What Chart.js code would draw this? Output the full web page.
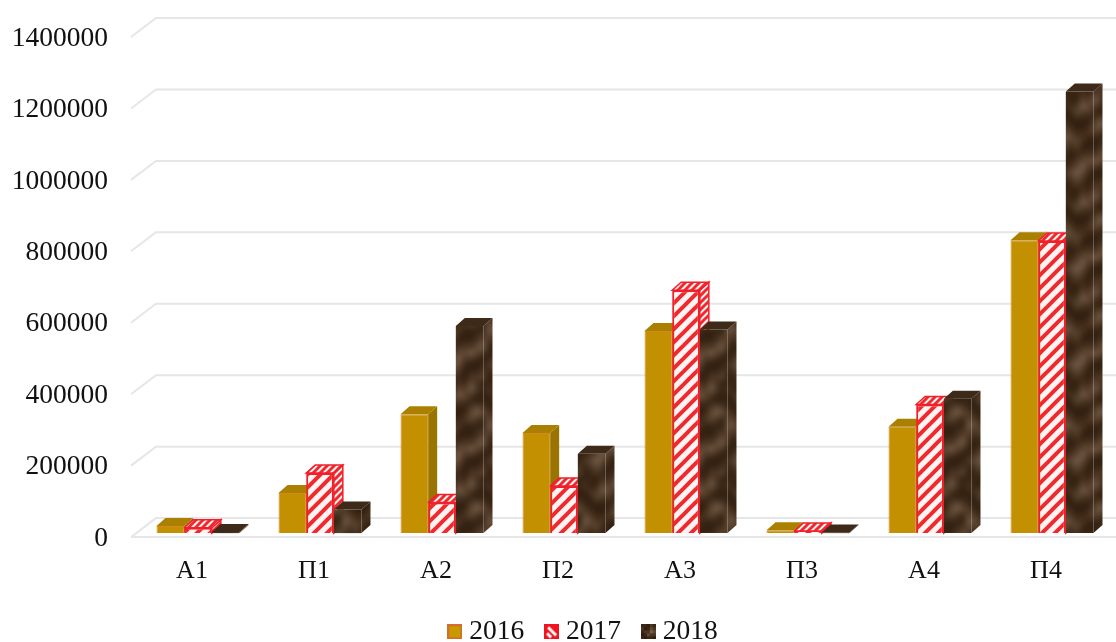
<!DOCTYPE html>
<html>
<head>
<meta charset="utf-8">
<style>
  html, body { margin: 0; padding: 0; background: #fff; overflow: hidden; }
  canvas { display: block; }
</style>
<script src="https://cdn.jsdelivr.net/npm/chart.js@4"></script>
</head>
<body>
<canvas id="chart" width="1116" height="642"></canvas>
<script>
// chart data
const categories = ["А1", "П1", "А2", "П2", "А3", "П3", "А4", "П4"]
const values2016 = [20000, 112000, 333000, 280000, 566000, 8000, 298000, 820000]
const values2017 = [15000, 168000, 86000, 132000, 680000, 6000, 360000, 818000]
const values2018 = [3000, 66000, 580000, 222000, 570000, 2000, 376000, 1236000]
const yMax = 1400000
const yStep = 200000

// depth of the fake 3d look
const wallDx = 25, wallDy = 19
const barShiftX = 6, barShiftY = -4
const barDx = 9, barDy = 8
const plotTop = 37

const gridColor = "#e6e6e8"
const font = "'Liberation Serif', serif"

function makeTile(w, h, paint) {
  const c = document.createElement("canvas")
  c.width = w
  c.height = h
  paint(c.getContext("2d"))
  return c
}

// diagonal red stripes on white
function paintStripes(g, size, line) {
  g.fillStyle = "#fff4f2"
  g.fillRect(0, 0, size, size)
  g.strokeStyle = "#ee2a30"
  g.lineWidth = line
  for (let k = -size; k <= size * 2; k += size) {
    g.beginPath()
    g.moveTo(k - 2, size + 2)
    g.lineTo(k + size + 2, -2)
    g.stroke()
  }
}

// mottled brown, fixed tile
const brownShades = ["#2e1c0d", "#3a2615", "#4b3522", "#5f4834", "#75604c"]
const brownRows = [
  "11021320", "20132421", "12243210", "01322101",
  "10110232", "21001343", "32112321", "43221110",
  "32310012", "21201123", "10122234", "01233432",
  "12342210", "23431001", "12320112", "01210223"
]
function paintBrown(g, cell) {
  brownRows.forEach((row, y) => {
    for (let x = 0; x < row.length; x++) {
      g.fillStyle = brownShades[+row[x]]
      g.fillRect(x * cell, y * cell, cell, cell)
    }
  })
}
// blur a 3x3 sheet of the tile and keep the middle, so it repeats without seams
function softBrown(cell) {
  const w = 8 * cell, h = 16 * cell
  const raw = makeTile(w, h, g => paintBrown(g, cell))
  const sheet = makeTile(w * 3, h * 3, g => {
    for (let i = 0; i < 3; i++) {
      for (let j = 0; j < 3; j++) {
        g.drawImage(raw, i * w, j * h)
      }
    }
  })
  return makeTile(w, h, g => {
    g.filter = "blur(" + cell / 2 + "px)"
    g.drawImage(sheet, -w, -h)
  })
}

const ctx = document.getElementById("chart").getContext("2d")
const stripeFill = ctx.createPattern(makeTile(13, 13, g => paintStripes(g, 13, 4)), "repeat")
const stripeFine = ctx.createPattern(makeTile(7, 7, g => paintStripes(g, 7, 3)), "repeat")
const brownFill = ctx.createPattern(softBrown(6), "repeat")

// legend swatches
const swatch2016 = makeTile(15, 15, g => {
  g.fillStyle = "#c99a00"
  g.fillRect(0, 0, 15, 15)
  g.strokeStyle = "#d0702a"
  g.lineWidth = 2
  g.strokeRect(1, 1, 13, 13)
})
const swatch2017 = makeTile(15, 15, g => {
  g.fillStyle = "#f0141e"
  g.fillRect(0, 0, 15, 15)
  g.strokeStyle = "#ffffff"
  g.lineWidth = 3
  g.beginPath()
  g.moveTo(4, 3)
  g.lineTo(12, 11)
  g.stroke()
  g.beginPath()
  g.moveTo(3, 9)
  g.lineTo(7, 13)
  g.stroke()
})
const swatch2018 = makeTile(15, 15, g => paintBrown(g, 3))

const faces = [
  { top: "#ab8000", side: "#9a7400" },
  { top: stripeFine, side: stripeFine, edge: "#f0202a" },
  { top: "#3d2a19", side: brownFill }
]

function poly(c, pts, fill, edge) {
  c.beginPath()
  pts.forEach((p, i) => i ? c.lineTo(p[0], p[1]) : c.moveTo(p[0], p[1]))
  c.closePath()
  c.fillStyle = fill
  c.fill()
  if (edge) {
    c.strokeStyle = edge
    c.lineWidth = 1.5
    c.stroke()
  }
}

const wallPlugin = {
  id: "wall",
  afterLayout(chart) {
    // legend sits off centre in the original
    chart.legend.left += 65
    chart.legend.top += 1
    // layout leaves the y axis a bit short at the top
    const y = chart.scales.y
    y.top = plotTop
    y.height = y.bottom - plotTop
    y.configure()
  },
  beforeDatasetsDraw(chart) {
    const c = chart.ctx
    const y = chart.scales.y
    const left = chart.chartArea.left
    // back wall lines and the floor edge
    c.save()
    c.strokeStyle = gridColor
    c.lineWidth = 2
    for (let v = 0; v <= yMax; v += yStep) {
      const py = y.getPixelForValue(v)
      c.beginPath()
      c.moveTo(left, py)
      c.lineTo(left + wallDx, py - wallDy)
      c.lineTo(chart.width, py - wallDy)
      c.stroke()
    }
    c.beginPath()
    c.moveTo(left, y.getPixelForValue(0))
    c.lineTo(chart.width, y.getPixelForValue(0))
    c.stroke()
    // top and side faces of all bars, the fronts go over them
    c.translate(barShiftX, barShiftY)
    chart.data.datasets.forEach((ds, i) => {
      const f = faces[i]
      chart.getDatasetMeta(i).data.forEach(bar => {
        const l = bar.x - bar.width / 2
        const r = bar.x + bar.width / 2
        poly(c, [[r, bar.y], [r + barDx, bar.y - barDy], [r + barDx, bar.base - barDy], [r, bar.base]], f.side, f.edge)
        poly(c, [[l, bar.y], [l + barDx, bar.y - barDy], [r + barDx, bar.y - barDy], [r, bar.y]], f.top, f.edge)
      })
    })
    c.restore()
  },
  beforeDatasetDraw(chart) {
    chart.ctx.save()
    chart.ctx.translate(barShiftX, barShiftY)
  },
  afterDatasetDraw(chart) {
    chart.ctx.restore()
  }
}

new Chart(ctx, {
  type: "bar",
  data: {
    labels: categories,
    datasets: [
      { label: "2016", data: values2016, backgroundColor: "#c29000", borderColor: "#d08a20", borderWidth: 1, pointStyle: swatch2016 },
      { label: "2017", data: values2017, backgroundColor: stripeFill, borderColor: "#f0202a", borderWidth: 2, pointStyle: swatch2017 },
      { label: "2018", data: values2018, backgroundColor: brownFill, borderWidth: 0, pointStyle: swatch2018 }
    ]
  },
  options: {
    responsive: false,
    animation: false,
    layout: { padding: { top: 30, right: 9, bottom: -12.6 } },
    datasets: { bar: { categoryPercentage: 0.68, barPercentage: 1, clip: false } },
    scales: {
      x: {
        grid: { display: false, drawTicks: false },
        border: { display: false },
        afterFit(scale) { scale.height = 53 },
        ticks: { color: "#111", font: { family: font, size: 26 }, padding: 18, maxRotation: 0 }
      },
      y: {
        min: 0,
        max: yMax,
        grid: { display: false, drawTicks: false },
        border: { display: false },
        afterFit(scale) { scale.width = 131 },
        ticks: {
          stepSize: yStep,
          color: "#111",
          font: { family: font, size: 27.5 },
          padding: 23,
          labelOffset: 1.5,
          callback: v => String(v)
        }
      }
    },
    plugins: {
      tooltip: { enabled: false },
      legend: {
        position: "bottom",
        labels: {
          color: "#111",
          font: { family: font, size: 27.5 },
          usePointStyle: true,
          pointStyleWidth: 1,
          padding: 27
        }
      }
    }
  },
  plugins: [wallPlugin]
})
</script>
</body>
</html>
